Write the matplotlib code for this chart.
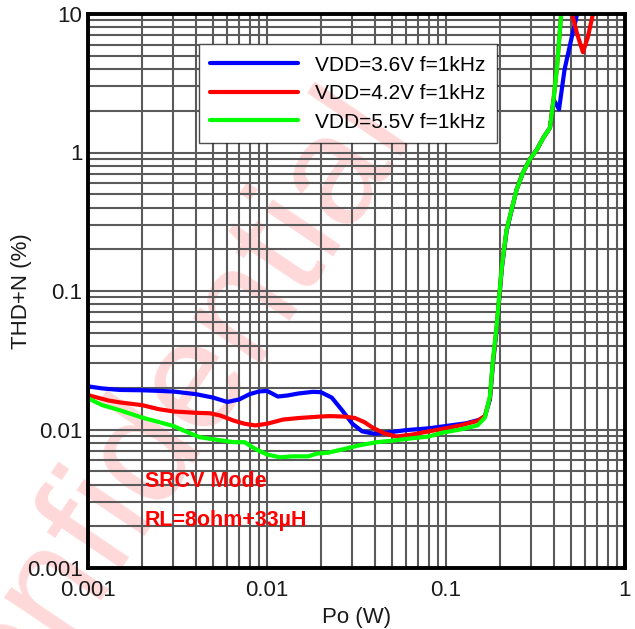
import matplotlib
matplotlib.use("Agg")
import matplotlib.pyplot as plt
from matplotlib.patches import Rectangle
from matplotlib.ticker import LogLocator, FixedLocator, NullFormatter

plt.rcParams['font.family'] = ['Liberation Sans', 'DejaVu Sans']

# ---- data ----
labels = ["VDD=3.6V f=1kHz", "VDD=4.2V f=1kHz", "VDD=5.5V f=1kHz"]
colors = ["#0000ff", "#ff0000", "#00ff00"]

blue_x = [0.001, 0.0012, 0.0015, 0.002, 0.0025, 0.003, 0.004, 0.005, 0.006, 0.007, 0.008, 0.009,
          0.010, 0.0115, 0.013, 0.015, 0.018, 0.020, 0.023, 0.026, 0.030, 0.034, 0.040, 0.050,
          0.060, 0.080, 0.100, 0.130, 0.155, 0.165, 0.176, 0.183, 0.192, 0.198, 0.205, 0.218,
          0.248, 0.269, 0.295, 0.322, 0.35, 0.381, 0.40, 0.428, 0.46, 0.50, 0.54, 0.56]
blue_y = [0.0205, 0.0198, 0.0193, 0.0192, 0.0190, 0.0188, 0.0180, 0.0170, 0.0158, 0.0165, 0.0180, 0.0188,
          0.0190, 0.0173, 0.0176, 0.0182, 0.0187, 0.0186, 0.0170, 0.0140, 0.0110, 0.0097, 0.0093, 0.0096,
          0.0099, 0.0102, 0.0106, 0.0111, 0.0118, 0.0125, 0.0165, 0.030, 0.053, 0.085, 0.145, 0.27,
          0.54, 0.715, 0.9, 1.05, 1.28, 1.51, 2.4, 2.05, 4.0, 6.5, 10.0, 12.0]

red_x = [0.001, 0.0013, 0.0015, 0.002, 0.0025, 0.003, 0.004, 0.0048, 0.0055, 0.0065, 0.0075, 0.0086,
         0.010, 0.0123, 0.015, 0.0198, 0.0224, 0.027, 0.031, 0.035, 0.039, 0.045, 0.0528, 0.065,
         0.080, 0.096, 0.120, 0.149, 0.165, 0.176, 0.183, 0.192, 0.198, 0.205, 0.218, 0.248,
         0.269, 0.295, 0.322, 0.35, 0.381, 0.40, 0.417, 0.44, 0.47, 0.506, 0.54, 0.582, 0.62,
         0.662, 0.70]
red_y = [0.0177, 0.0162, 0.0157, 0.0150, 0.0140, 0.0135, 0.0132, 0.0131, 0.0126, 0.0116, 0.0110, 0.0107,
         0.0110, 0.0118, 0.0121, 0.0124, 0.0125, 0.0124, 0.0121, 0.0113, 0.0103, 0.0094, 0.0089, 0.0092,
         0.0097, 0.0101, 0.0107, 0.0115, 0.0125, 0.0170, 0.031, 0.055, 0.088, 0.15, 0.277, 0.54,
         0.715, 0.9, 1.05, 1.28, 1.51, 2.5, 4.15, 10.0, 14.0, 10.0, 7.2, 5.3, 6.8,
         10.0, 14.0]

green_x = [0.001, 0.0012, 0.0015, 0.002, 0.0025, 0.003, 0.0035, 0.0042, 0.005, 0.0065, 0.0075, 0.0085,
           0.010, 0.0118, 0.014, 0.017, 0.019, 0.022, 0.0266, 0.033, 0.041, 0.050, 0.0627, 0.080,
           0.096, 0.120, 0.150, 0.165, 0.176, 0.183, 0.192, 0.198, 0.205, 0.218, 0.248, 0.269,
           0.295, 0.322, 0.35, 0.381, 0.40, 0.417, 0.44, 0.45]
green_y = [0.0168, 0.0150, 0.0138, 0.0122, 0.0113, 0.0106, 0.0097, 0.0088, 0.0085, 0.0081, 0.0081, 0.0073,
           0.0066, 0.0063, 0.0064, 0.0064, 0.0067, 0.0068, 0.0072, 0.0077, 0.0081, 0.0083, 0.0086, 0.0089,
           0.0095, 0.0100, 0.0107, 0.0122, 0.0174, 0.032, 0.056, 0.09, 0.15, 0.277, 0.54, 0.715,
           0.9, 1.05, 1.28, 1.51, 2.5, 4.15, 10.0, 12.0]

x_ticks = [0.001, 0.01, 0.1, 1]
x_ticklabels = ["0.001", "0.01", "0.1", "1"]
y_ticks = [0.001, 0.01, 0.1, 1, 10]
y_ticklabels = ["0.001", "0.01", "0.1", "1", "10"]
notes = ["SRCV Mode", "RL=8ohm+33\u00b5H"]
watermark = "Confidential"

# ---- figure ----
fig = plt.figure(figsize=(6.35, 6.29), dpi=100)
ax = fig.add_axes([88/635, 1-568/629, 537/635, 554/629])
ax.set_facecolor('none')
ax.set_axisbelow(True)

wm_pos = (182/635, 1-470/629)
wm_kw = dict(rotation=56, fontsize=112, color='#ffd9d9', ha='center', va='baseline',
             rotation_mode='anchor', transform=fig.transFigure)
ax.text(wm_pos[0], wm_pos[1], watermark, zorder=0.2, clip_on=False, **wm_kw)

ax.set_xscale('log')
ax.set_yscale('log')
ax.set_xlim(0.001, 1)
ax.set_ylim(0.001, 10)

ax.grid(True, which='both', color='#5a5a5a', lw=1.5)
ax.xaxis.set_major_locator(FixedLocator(x_ticks))
ax.yaxis.set_major_locator(FixedLocator(y_ticks))
ax.xaxis.set_minor_locator(LogLocator(base=10, subs=range(2, 10)))
ax.yaxis.set_minor_locator(LogLocator(base=10, subs=range(2, 10)))
ax.xaxis.set_minor_formatter(NullFormatter())
ax.yaxis.set_minor_formatter(NullFormatter())
ax.set_xticks(x_ticks)
ax.set_xticklabels(x_ticklabels)
ax.set_yticks(y_ticks)
ax.set_yticklabels(y_ticklabels)
ax.tick_params(which='both', length=0)
ax.tick_params(axis='x', pad=9, labelsize=16, colors='#1a1a1a')
ax.tick_params(axis='y', pad=4, labelsize=16, colors='#1a1a1a')

for s in ax.spines.values():
    s.set_linewidth(2.8)
    s.set_color('black')
    s.set_zorder(5)

for xs, ys, c, lab in zip([blue_x, red_x, green_x], [blue_y, red_y, green_y], colors, labels):
    ax.plot(xs, ys, color=c, lw=3, label=lab, zorder=3, solid_capstyle='round')

leg = ax.legend(loc='upper left', bbox_to_anchor=(0.2067, 0.7617, 0.555, 0.184), mode='expand',
                fontsize=15, frameon=True, fancybox=False, handlelength=4.2, handletextpad=0.8,
                labelspacing=0.46, borderpad=0.55, borderaxespad=0.0)
leg.get_frame().set_edgecolor('#202020')
leg.get_frame().set_facecolor('none')
leg.get_frame().set_linewidth(1.0)
leg.set_zorder(6)

ax.text(0.106, 0.156, notes[0], transform=ax.transAxes, color='#ff0000', fontsize=15.5,
        fontweight='bold', ha='left', va='center', zorder=4)
ax.text(0.106, 0.0854, notes[1], transform=ax.transAxes, color='#ff0000', fontsize=15.5,
        fontweight='bold', ha='left', va='center', zorder=4)

ax.set_xlabel("Po (W)", fontsize=16, color='#1a1a1a', labelpad=4)
ax.set_ylabel("THD+N (%)", fontsize=16, color='#1a1a1a')
ax.yaxis.set_label_coords(-0.104, 0.5)

# white legend background above grid, with watermark visible through it
fig.canvas.draw()
bb = leg.get_frame().get_window_extent().transformed(ax.transAxes.inverted())
bg = Rectangle((bb.x0, bb.y0), bb.width, bb.height, transform=ax.transAxes,
               facecolor='white', edgecolor='none', zorder=0.8)
ax.add_patch(bg)
wm2 = ax.text(wm_pos[0], wm_pos[1], watermark, zorder=0.9, clip_on=True, **wm_kw)
wm2.set_clip_path(bg)
wm2.set_clip_on(True)

fig.savefig("out.png", dpi=100)
